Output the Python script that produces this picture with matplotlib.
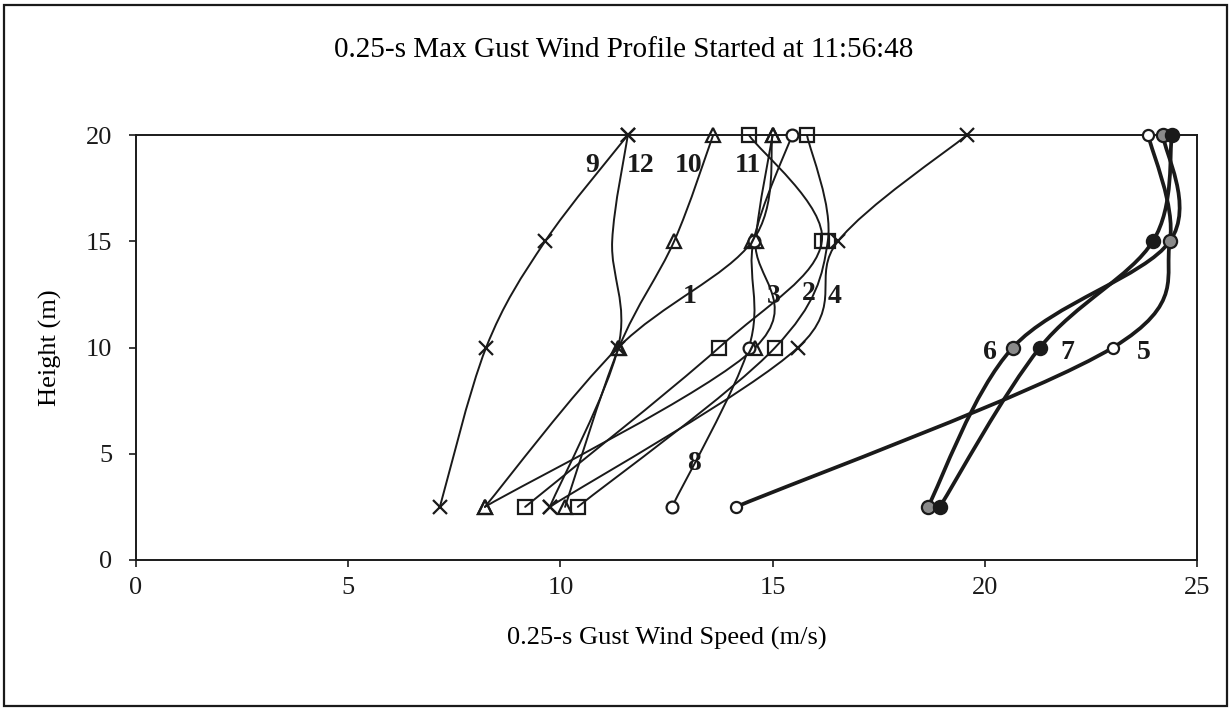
import numpy as np
import matplotlib
matplotlib.use("Agg")
import matplotlib.pyplot as plt
from matplotlib.path import Path
from matplotlib.patches import PathPatch, Rectangle

plt.rcParams['font.family'] = ['Liberation Serif', 'DejaVu Serif']

# measurement heights (m)
heights = [2.5, 10, 15, 20]

# 0.25-s gust speed (m/s) at each height, bottom to top
p1 = [8.22, 11.36, 14.52, 15.0]
p2 = [10.41, 15.06, 16.30, 15.81]
p3 = [9.17, 13.74, 16.16, 14.44]
p4 = [9.75, 15.60, 16.54, 19.58]
p5 = [14.14, 23.02, 24.36, 23.85]
p6 = [18.66, 20.66, 24.36, 24.20]
p7 = [18.94, 21.30, 23.96, 24.41]
p8 = [12.63, 14.44, 14.55, 15.46]
p9 = [7.16, 8.25, 9.64, 11.59]
p10 = [10.11, 11.38, 12.68, 13.60]
p11 = [8.22, 14.59, 14.60, 15.00]
p12 = [9.75, 11.36, 11.22, 11.59]

profiles = [p1, p2, p3, p4, p5, p6, p7, p8, p9, p10, p11, p12]
names = ['1', '2', '3', '4', '5', '6', '7', '8', '9', '10', '11', '12']

# where each profile number is written (speed, height)
label_x = [13.05, 15.85, 15.03, 16.45, 23.75, 20.12, 21.94, 13.15, 10.74, 13.03, 14.42, 11.88]
label_y = [12.4, 12.55, 12.4, 12.4, 9.75, 9.75, 9.75, 4.55, 18.55, 18.55, 18.55, 18.55]

# marker styling per profile
markers = ['^', 's', 's', 'x', 'o', 'o', 'o', 'o', 'x', '^', '^', 'x']
faces = ['none', 'none', 'none', 'k', 'white', '#8a8a8a', '#1a1a1a', 'white',
         'k', 'none', 'none', 'k']
sizes = [10, 10.5, 10.5, 10, 8, 9.5, 9.5, 8.5, 10, 10, 10, 10]
widths = [1.4, 1.4, 1.4, 1.4, 2.7, 2.7, 2.7, 1.4, 1.4, 1.4, 1.4, 1.4]
# the 15 m point of profile 12 carries no marker
mark_at = [None] * 11 + [[0, 1, 3]]


def smooth_path(xs, ys):
    # Catmull-Rom style cubic Bezier through the points (smoothed line)
    pts = np.column_stack([xs, ys])
    n = len(pts)
    verts = [pts[0]]
    codes = [Path.MOVETO]
    for i in range(n - 1):
        p0 = pts[i - 1] if i > 0 else pts[i]
        a = pts[i]
        b = pts[i + 1]
        p3_ = pts[i + 2] if i + 2 < n else pts[i + 1]
        c1 = a + (b - p0) / 6.0
        c2 = b - (p3_ - a) / 6.0
        verts += [c1, c2, b]
        codes += [Path.CURVE4] * 3
    return Path(verts, codes)


fig = plt.figure(figsize=(12.31, 7.10), dpi=100)
ax = fig.add_axes([136 / 1231, 1 - 560 / 710, (1197 - 136) / 1231, (560 - 135) / 710])

for i, spd in enumerate(profiles):
    path = smooth_path(spd, heights)
    ax.add_patch(PathPatch(path, fill=False, edgecolor='#1a1a1a', lw=widths[i],
                           capstyle='round', joinstyle='round', zorder=2))

for i, spd in enumerate(profiles):
    if markers[i] == 'x':
        ax.plot(spd, heights, ls='none', marker='x', ms=sizes[i], mew=1.6,
                color='#1a1a1a', markevery=mark_at[i], clip_on=False, zorder=3)
    else:
        ax.plot(spd, heights, ls='none', marker=markers[i], ms=sizes[i], mew=1.6,
                mec='#1a1a1a', mfc=faces[i], markevery=mark_at[i], clip_on=False, zorder=3)

for name, lx, ly in zip(names, label_x, label_y):
    ax.text(lx, ly, name, fontsize=20, fontweight='bold', ha='center', va='center',
            color='#1a1a1a', zorder=4)

ax.set_xlim(0, 25)
ax.set_ylim(0, 20)
ax.set_xticks([0, 5, 10, 15, 20, 25])
ax.set_yticks([0, 5, 10, 15, 20])
ax.tick_params(direction='out', length=5, width=1.2, labelsize=19, colors='#1a1a1a')
ax.tick_params(axis='x', pad=7)
ax.tick_params(axis='y', pad=12)
for s in ax.spines.values():
    s.set_linewidth(1.4)
    s.set_color('#1a1a1a')

ax.set_xlabel('0.25-s Gust Wind Speed (m/s)', fontsize=19, labelpad=20)
ax.set_ylabel('Height (m)', fontsize=19, labelpad=17)
fig.text(624 / 1231, 1 - 50 / 710,
         '0.25-s Max Gust Wind Profile Started at 11:56:48',
         fontsize=21, ha='center', va='center')

# outer frame of the figure
fig.patches.append(Rectangle((4 / 1231, 4 / 710), 1223 / 1231, 701 / 710, fill=False,
                             lw=1.6, edgecolor='#1a1a1a', transform=fig.transFigure))

fig.savefig('out.png', dpi=100, facecolor='white')
